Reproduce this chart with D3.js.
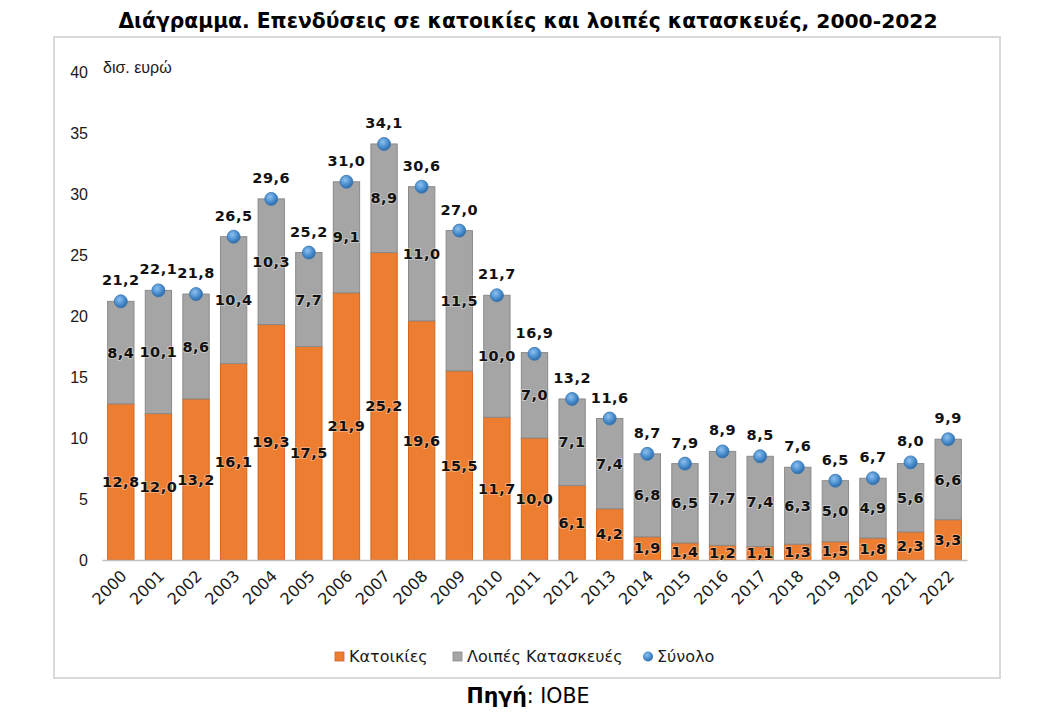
<!DOCTYPE html>
<html>
<head>
<meta charset="utf-8">
<script src="https://cdn.jsdelivr.net/npm/d3@7"></script>
<style>
  body { margin: 0; background: #fff; }
  svg { font-family: "DejaVu Sans", sans-serif; }
</style>
</head>
<body>
<svg id="chart" width="1058" height="718"></svg>
<script>
// δεδομένα
const years = ["2000","2001","2002","2003","2004","2005","2006","2007","2008","2009","2010",
  "2011","2012","2013","2014","2015","2016","2017","2018","2019","2020","2021","2022"];
const houses = [12.8,12.0,13.2,16.1,19.3,17.5,21.9,25.2,19.6,15.5,11.7,10.0,6.1,4.2,1.9,1.4,1.2,1.1,1.3,1.5,1.8,2.3,3.3];
const other = [8.4,10.1,8.6,10.4,10.3,7.7,9.1,8.9,11.0,11.5,10.0,7.0,7.1,7.4,6.8,6.5,7.7,7.4,6.3,5.0,4.9,5.6,6.6];
const total = [21.2,22.1,21.8,26.5,29.6,25.2,31.0,34.1,30.6,27.0,21.7,16.9,13.2,11.6,8.7,7.9,8.9,8.5,7.6,6.5,6.7,8.0,9.9];
const yTicks = [0,5,10,15,20,25,30,35,40];
const seriesNames = ["Κατοικίες", "Λοιπές Κατασκευές", "Σύνολο"];

const fmt = (v) => v.toFixed(1).replace(".", ",");

const svg = d3.select("#chart");

// gradient για τις κουκκίδες
const defs = svg.append("defs");
const grad = defs.append("radialGradient")
  .attr("id", "dotGrad")
  .attr("cx", "40%").attr("cy", "35%").attr("r", "65%");
grad.append("stop").attr("offset", "0%").attr("stop-color", "#8fc0ee");
grad.append("stop").attr("offset", "60%").attr("stop-color", "#4a8fd0");
grad.append("stop").attr("offset", "100%").attr("stop-color", "#2f6ca8");

// τίτλος
svg.append("text")
  .attr("x", 528).attr("y", 28)
  .attr("text-anchor", "middle")
  .style("font-size", "20.3px")
  .style("font-weight", "bold")
  .text("Διάγραμμα. Επενδύσεις σε κατοικίες και λοιπές κατασκευές, 2000-2022");

// πλαίσιο
svg.append("rect")
  .attr("x", 54).attr("y", 37)
  .attr("width", 946).attr("height", 641)
  .attr("fill", "none")
  .attr("stroke", "#d9d9d9")
  .attr("stroke-width", 2);

// κλίμακες
const x = d3.scaleBand()
  .domain(years)
  .range([102, 967])
  .paddingInner(0.3)
  .paddingOuter(0.15);

const y = d3.scaleLinear()
  .domain([0, 40])
  .range([560, 72]);

// άξονας y (μόνο ετικέτες)
const yAxis = svg.append("g")
  .attr("transform", "translate(88,0)")
  .call(d3.axisLeft(y).tickValues(yTicks).tickSize(0).tickPadding(0));
yAxis.select(".domain").remove();
yAxis.selectAll("text")
  .style("font-size", "16px")
  .style("font-family", "Liberation Sans, Arial, sans-serif")
  .attr("fill", "#1a1a1a");

svg.append("text")
  .attr("x", 103).attr("y", 73)
  .style("font-size", "16px")
  .style("font-family", "Liberation Sans, Arial, sans-serif")
  .attr("fill", "#1a1a1a")
  .text("δισ. ευρώ");

const rows = years.map((yr, i) => ({ yr, h: houses[i], o: other[i], t: total[i] }));

// κατοικίες
svg.append("g")
  .selectAll("rect")
  .data(rows)
  .join("rect")
  .attr("x", (d) => x(d.yr))
  .attr("y", (d) => y(d.h))
  .attr("width", x.bandwidth())
  .attr("height", (d) => y(0) - y(d.h))
  .attr("fill", "#ed7d31")
  .attr("stroke", "#d0661f")
  .attr("stroke-width", 1);

// λοιπές κατασκευές
svg.append("g")
  .selectAll("rect")
  .data(rows)
  .join("rect")
  .attr("x", (d) => x(d.yr))
  .attr("y", (d) => y(d.h + d.o))
  .attr("width", x.bandwidth())
  .attr("height", (d) => y(d.h) - y(d.h + d.o))
  .attr("fill", "#a5a5a5")
  .attr("stroke", "#8a8a8a")
  .attr("stroke-width", 1);

// άξονας x
const xAxis = svg.append("g")
  .attr("transform", `translate(0,${y(0)})`)
  .call(d3.axisBottom(x).tickSize(0).tickPadding(0));
xAxis.select(".domain").attr("stroke", "#bfbfbf").attr("stroke-width", 1.5);
xAxis.selectAll("text")
  .style("font-size", "16px")
  .style("font-family", "DejaVu Sans, sans-serif")
  .attr("fill", "#1a1a1a")
  .attr("text-anchor", "end")
  .attr("dy", null)
  .attr("y", null)
  .attr("transform", "translate(7,17) rotate(-45)");

// ετικέτες τμημάτων
const labelStyle = (sel) => sel
  .attr("text-anchor", "middle")
  .attr("dy", "0.35em")
  .style("font-size", "14.5px")
  .style("font-weight", "bold")
  .style("letter-spacing", "0.5px")
  .attr("fill", "#111")
  .attr("stroke", "rgba(255,255,255,0.35)")
  .attr("stroke-width", 2)
  .attr("paint-order", "stroke");

svg.append("g")
  .selectAll("text")
  .data(rows)
  .join("text")
  .attr("x", (d) => x(d.yr) + x.bandwidth() / 2)
  .attr("y", (d) => y(d.h / 2))
  .text((d) => fmt(d.h))
  .call(labelStyle);

svg.append("g")
  .selectAll("text")
  .data(rows)
  .join("text")
  .attr("x", (d) => x(d.yr) + x.bandwidth() / 2)
  .attr("y", (d) => y(d.h + d.o / 2))
  .text((d) => fmt(d.o))
  .call(labelStyle);

// σύνολο
svg.append("g")
  .selectAll("circle")
  .data(rows)
  .join("circle")
  .attr("cx", (d) => x(d.yr) + x.bandwidth() / 2)
  .attr("cy", (d) => y(d.t))
  .attr("r", 6.5)
  .attr("fill", "url(#dotGrad)")
  .attr("stroke", "#3a76b0")
  .attr("stroke-width", 0.8);

svg.append("g")
  .selectAll("text")
  .data(rows)
  .join("text")
  .attr("x", (d) => x(d.yr) + x.bandwidth() / 2)
  .attr("y", (d) => y(d.t) - 21)
  .text((d) => fmt(d.t))
  .call(labelStyle)
  .attr("stroke", "none");

// υπόμνημα
const legend = svg.append("g").style("font-size", "16px");
const legendItems = [
  { name: seriesNames[0], x: 335, type: "rect", color: "#ed7d31" },
  { name: seriesNames[1], x: 453, type: "rect", color: "#a5a5a5" },
  { name: seriesNames[2], x: 643, type: "circle", color: "#4a8fd0" },
];
legendItems.forEach((it) => {
  if (it.type === "rect") {
    legend.append("rect")
      .attr("x", it.x).attr("y", 652)
      .attr("width", 9).attr("height", 9)
      .attr("fill", it.color)
      .attr("stroke", d3.color(it.color).darker(0.5))
      .attr("stroke-width", 0.8);
  } else {
    legend.append("circle")
      .attr("cx", it.x + 5).attr("cy", 656.5)
      .attr("r", 5)
      .attr("fill", "url(#dotGrad)");
  }
  legend.append("text")
    .attr("x", it.x + 14).attr("y", 662)
    .attr("fill", "#1a1a1a")
    .text(it.name);
});

// πηγή
const src = svg.append("text")
  .attr("x", 528).attr("y", 703)
  .attr("text-anchor", "middle")
  .style("font-size", "20.5px");
src.append("tspan").style("font-weight", "bold").text("Πηγή");
src.append("tspan").text(": ΙΟΒΕ");
</script>
</body>
</html>
